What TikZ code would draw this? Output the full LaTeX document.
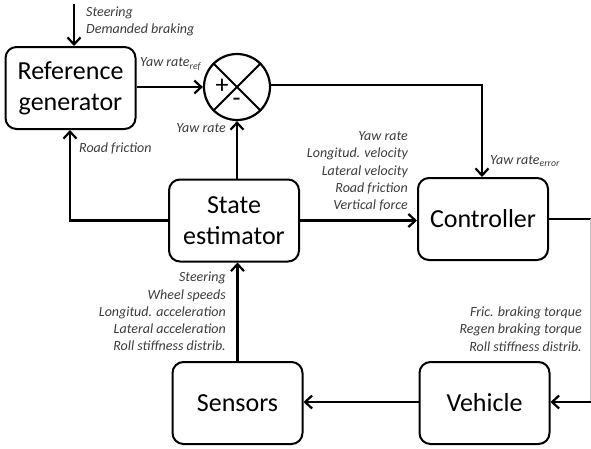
\documentclass[tikz,border=0pt]{standalone}
\usepackage{fontspec}
\setmainfont{Carlito}
\usetikzlibrary{arrows.meta}
\definecolor{labelgray}{HTML}{3C3C3C}
\tikzset{
  block/.style={draw, line width=2pt, rounded corners=11pt, minimum width=130pt,
    minimum height=82pt, align=center, inner sep=0pt,
    font=\fontsize{26}{31}\selectfont},
  conn/.style={line width=2.6pt},
  arr/.style={conn, -{Straight Barb[length=7pt,width=13pt,line width=2.2pt]}},
  sig/.style={text=labelgray, inner sep=0pt, font=\fontsize{14}{17.2}\selectfont\itshape},
}
\begin{document}
\begin{tikzpicture}[x=1pt, y=-1pt]
\useasboundingbox (0,0) rectangle (591,448);

% blocks
\node[block] (ref)  at (70.5,88)  {Reference\\generator};
\node[block] (est)  at (234,220.5) {State\\estimator};
\node[block] (ctrl) at (483,219)  {Controller};
\node[block] (sens) at (237.5,403) {Sensors};
\node[block] (veh)  at (484.5,403) {Vehicle};

% summing junction
\node[draw, circle, line width=2.2pt, minimum size=66pt, inner sep=0pt] (sum) at (237,87) {};
\draw[line width=2pt] (sum.north west) -- (sum.south east);
\draw[line width=2pt] (sum.north east) -- (sum.south west);
\node[font=\fontsize{26}{26}\selectfont] (plus) at (222,86) {+};
\node[font=\fontsize{26}{26}\selectfont] (minus) at (236.5,102) {-};

% connection points
\coordinate (in)  at (74,4);
\coordinate (c1)  at (482,85);
\coordinate (rc)  at (591,219);
\coordinate (rv)  at (591,402);
\coordinate (c2)  at (70,220.5);

% connectors
\draw[arr] (in) -- (ref.north -| in);
\draw[arr] (ref.east |- sum.west) -- (sum.west);
\draw[conn] (sum.east |- c1) -- (c1);
\draw[arr] ([yshift=1.3pt]c1) -- (c1 |- ctrl.north);
\draw[arr] (est.north -| sum) -- (sum.south);
\draw[conn] (est.west) -- (c2);
\draw[arr] ([yshift=-1.3pt]c2) -- (c2 |- ref.south);
\draw[arr] (est.east) -- (est.east -| ctrl.west);
\draw[conn] (ctrl.east) -- (rc);
\draw[line width=1pt, black!25] ([xshift=-0.5pt]rc) -- ([xshift=-0.5pt]rv);
\draw[arr] (rv) -- (rv -| veh.east);
\draw[arr] (veh.west |- rv) -- (rv -| sens.east);
\draw[arr] (sens.north) -- (sens.north |- est.south);

% signal labels
\node[sig, anchor=west, align=left] (lin) at (86,21.5) {Steering\\Demanded braking};
\node[sig, anchor=west] (lref) at (140,64) {Yaw rate\textsubscript{ref}};
\node[sig, anchor=east] (lyaw) at (226,128) {Yaw rate};
\node[sig, anchor=west] (lroad) at (79,148) {Road friction};
\node[sig, anchor=west] (lerr) at (490,161) {Yaw rate\textsubscript{error}};
\node[sig, anchor=east, align=right] (lest) at (408,171.5)
  {Yaw rate\\Longitud. velocity\\Lateral velocity\\Road friction\\Vertical force};
\node[sig, anchor=east, align=right] (lsens) at (226,311.5)
  {Steering\\Wheel speeds\\Longitud. acceleration\\Lateral acceleration\\Roll stiffness distrib.};
\node[sig, anchor=east, align=right] (lveh) at (582,329)
  {Fric. braking torque\\Regen braking torque\\Roll stiffness distrib.};
\end{tikzpicture}
\end{document}
